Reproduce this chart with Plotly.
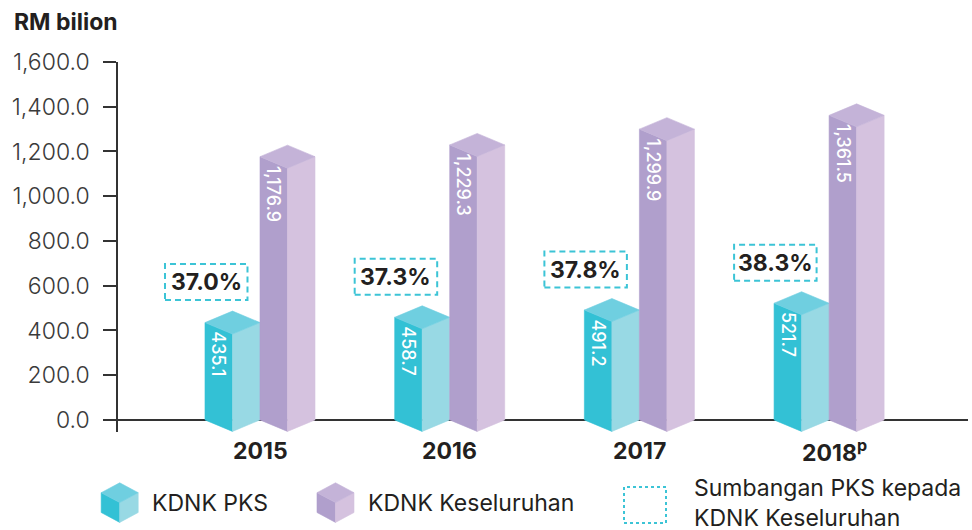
import plotly.graph_objects as go

# ---- data ----
years = ["2015", "2016", "2017", "2018"]
year_labels = ["2015", "2016", "2017", "2018<sup>p</sup>"]
kdnk_pks = [435.1, 458.7, 491.2, 521.7]          # KDNK PKS (RM bilion)
kdnk_total = [1176.9, 1229.3, 1299.9, 1361.5]    # KDNK Keseluruhan (RM bilion)
share_pct = [37.0, 37.3, 37.8, 38.3]             # Sumbangan PKS kepada KDNK (%)
y_ticks = [0, 200, 400, 600, 800, 1000, 1200, 1400, 1600]

# ---- style ----
FONT = "Inter"
TXT = "#231f20"
PKS_COL = dict(front="#33c1d5", side="#98d9e4", top="#6fcfe0")
TOT_COL = dict(front="#b09fcc", side="#d5c2df", top="#c4b3d8")
BOX_COL = "#3cc4d6"

HALF_W = 0.145    # half width of one bar (in category units)
DEPTH = 51.4      # half height of the isometric diamond (in value units)

W, H = 972, 530
ML, MR, MT, MB = 118, 4, 62, 98
PW, PH = W - ML - MR, H - MT - MB


def px2paper(x, y):
    return (x - ML) / PW, (H - MB - y) / PH


def faces(values, offset):
    lx, ly, rx, ry, tx, ty = [], [], [], [], [], []
    for i, v in enumerate(values):
        c = i + offset
        lx += [c - HALF_W, c, c, c - HALF_W, c - HALF_W, None]
        ly += [v, v - DEPTH, -DEPTH, 0, v, None]
        rx += [c, c + HALF_W, c + HALF_W, c, c, None]
        ry += [v - DEPTH, v, 0, -DEPTH, v - DEPTH, None]
        tx += [c - HALF_W, c, c + HALF_W, c, c - HALF_W, None]
        ty += [v, v + DEPTH, v, v - DEPTH, v, None]
    return (lx, ly), (rx, ry), (tx, ty)


fig = go.Figure()

for values, offset, col, name in [
    (kdnk_pks, -HALF_W, PKS_COL, "KDNK PKS"),
    (kdnk_total, HALF_W, TOT_COL, "KDNK Keseluruhan"),
]:
    (lx, ly), (rx, ry), (tx, ty) = faces(values, offset)
    for xs, ys, c in [(lx, ly, col["front"]), (rx, ry, col["side"]), (tx, ty, col["top"])]:
        fig.add_trace(go.Scatter(
            x=xs, y=ys, mode="lines", fill="toself", fillcolor=c,
            line=dict(width=0.6, color=c), hoverinfo="skip", showlegend=False,
            name=name,
        ))

annotations = []
shapes = []

# value labels inside the bars (rotated)
for values, offset in [(kdnk_pks, -HALF_W), (kdnk_total, HALF_W)]:
    for i, v in enumerate(values):
        annotations.append(dict(
            x=i + offset - HALF_W / 2, y=v, xref="x", yref="y",
            text=f"{v:,.1f}", textangle=90, showarrow=False,
            xanchor="center", yanchor="top", yshift=-7,
            font=dict(family=FONT, size=18, color="white", weight=500),
        ))

# share boxes
for i, (v, p) in enumerate(zip(kdnk_pks, share_pct)):
    left_edge = i - 2 * HALF_W
    shapes.append(dict(
        type="rect", xref="x", yref="y", xsizemode="pixel", ysizemode="pixel",
        xanchor=left_edge, yanchor=v, x0=-40, x1=42.5, y0=22.5, y1=58.5,
        line=dict(color=BOX_COL, width=2, dash="6px,4px"), fillcolor="rgba(0,0,0,0)",
    ))
    annotations.append(dict(
        x=left_edge, y=v, xref="x", yref="y", xshift=1.3, yshift=40.5,
        text=f"<b>{p:.1f}%</b>", showarrow=False, xanchor="center", yanchor="middle",
        font=dict(family=FONT, size=23, color=TXT),
    ))

# year labels
for i, lab in enumerate(year_labels):
    annotations.append(dict(
        x=i, y=0, xref="x", yref="paper", yshift=-19,
        xshift=5 if "sup" in lab else 0,
        text=f"<b>{lab}</b>", showarrow=False, xanchor="center", yanchor="middle",
        font=dict(family=FONT, size=23, color=TXT),
    ))

# axis title
ax, ay = px2paper(12, 22)
annotations.append(dict(
    x=ax, y=ay, xref="paper", yref="paper", text="<b>RM bilion</b>", showarrow=False,
    xanchor="left", yanchor="middle", font=dict(family=FONT, size=23, color=TXT),
))

# ---- custom legend ----
def cube(cx_px, cy_px, col):
    xa, ya = px2paper(cx_px, cy_px)
    hw, q = 18.5, 9.9
    top = f"M0,{2*q} L{hw},{q} L0,0 L{-hw},{q} Z"
    left = f"M{-hw},{q} L0,0 L0,{-2*q} L{-hw},{-q} Z"
    right = f"M0,0 L{hw},{q} L{hw},{-q} L0,{-2*q} Z"
    out = []
    for path, c in [(left, col["front"]), (right, col["side"]), (top, col["top"])]:
        out.append(dict(type="path", xref="paper", yref="paper", xsizemode="pixel",
                        ysizemode="pixel", xanchor=xa, yanchor=ya, path=path,
                        fillcolor=c, line=dict(width=0.6, color=c)))
    return out

shapes += cube(119.7, 502.6, PKS_COL)
shapes += cube(335.5, 502.6, TOT_COL)

bx0, by0 = px2paper(624, 523)
bx1, by1 = px2paper(666, 487)
shapes.append(dict(type="rect", xref="paper", yref="paper", x0=bx0, x1=bx1, y0=by0, y1=by1,
                   line=dict(color=BOX_COL, width=2, dash="3px,3px"),
                   fillcolor="rgba(0,0,0,0)"))

for x_px, y_px, txt in [(150, 503.5, "KDNK PKS"), (366, 503.5, "KDNK Keseluruhan"),
                        (692, 503, "Sumbangan PKS kepada<br>KDNK Keseluruhan")]:
    lx_, ly_ = px2paper(x_px, y_px)
    annotations.append(dict(
        x=lx_, y=ly_, xref="paper", yref="paper", text=txt, showarrow=False,
        xanchor="left", yanchor="middle", align="left",
        font=dict(family=FONT, size=23, color=TXT),
    ))

# x range so that group spacing ~189.7 px and first group at x=260 px
spacing = 189.7
x_lo = (ML - 260) / spacing
x_hi = (W - MR - 260) / spacing

fig.update_layout(
    width=W, height=H, autosize=False,
    margin=dict(l=ML, r=MR, t=MT, b=MB),
    paper_bgcolor="white", plot_bgcolor="white",
    showlegend=False,
    annotations=annotations, shapes=shapes,
    xaxis=dict(range=[x_lo, x_hi], showgrid=False, zeroline=False, showline=False,
               showticklabels=False, ticks="", fixedrange=True),
    yaxis=dict(range=[-54, 1600], tickvals=y_ticks, tickformat=",.1f",
               showgrid=False, zeroline=True, zerolinecolor="#333333", zerolinewidth=1.5,
               showline=True, linecolor="#333333", linewidth=1.5,
               ticks="outside", ticklen=13, tickwidth=1.5, tickcolor="#333333",
               ticklabelstandoff=9,
               tickfont=dict(family=FONT, size=23, color="#3a3a3a", weight=300),
               fixedrange=True),
)

fig.write_html("out.html", config={"displayModeBar": False},
               post_script="document.body.style.margin='0px';document.body.style.padding='0px';")
